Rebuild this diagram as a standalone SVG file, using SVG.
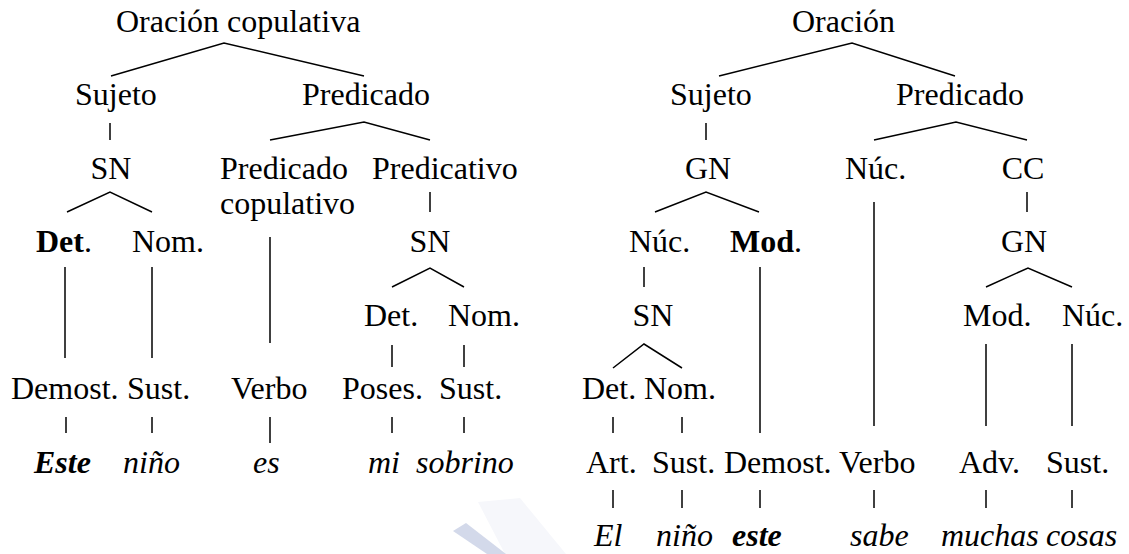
<svg xmlns="http://www.w3.org/2000/svg" width="1129" height="554" viewBox="0 0 1129 554">
  <style>
    text { font-size: 32px; fill: #000; }
    .b { font-weight: bold; }
    .i { font-style: italic; }
    .bi { font-weight: bold; font-style: italic; }
    .m { text-anchor: middle; }
    #connectors line, #connectors polyline { stroke: #000; stroke-width: 1.5; fill: none; }
  </style>
  <rect width="1129" height="554" fill="#fff"/>

  <!-- faint mark at the bottom edge -->
  <g id="mark">
    <polygon points="478,502 520,498 566,554 505,554" fill="#f6f7fb"/>
    <polygon points="453,531 466,523 506,554 487,554" fill="#d3d9ea"/>
  </g>

  <g id="connectors">
    <!-- left tree -->
    <polyline points="111,76 224,43 364,76"/>
    <line x1="110" y1="123" x2="110" y2="140"/>
    <polyline points="270,140 364,122 430,140"/>
    <polyline points="67,212 110,192 152,212"/>
    <line x1="430" y1="192" x2="430" y2="212"/>
    <line x1="270" y1="237" x2="270" y2="343"/>
    <line x1="65" y1="267" x2="65" y2="358"/>
    <line x1="152" y1="267" x2="152" y2="358"/>
    <polyline points="392,287 430,268 464,287"/>
    <line x1="392" y1="345" x2="392" y2="367"/>
    <line x1="464" y1="345" x2="464" y2="367"/>
    <line x1="66" y1="417" x2="66" y2="433"/>
    <line x1="152" y1="417" x2="152" y2="433"/>
    <line x1="270" y1="417" x2="270" y2="443"/>
    <line x1="392" y1="417" x2="392" y2="433"/>
    <line x1="464" y1="417" x2="464" y2="433"/>
    <!-- right tree -->
    <polyline points="719,76 852,43 955,76"/>
    <line x1="706" y1="123" x2="706" y2="140"/>
    <polyline points="874,140 956,122 1027,140"/>
    <polyline points="655,212 706,192 759,212"/>
    <line x1="874" y1="202" x2="874" y2="426"/>
    <line x1="1027" y1="192" x2="1027" y2="212"/>
    <line x1="644" y1="267" x2="644" y2="287"/>
    <line x1="760" y1="267" x2="760" y2="433"/>
    <polyline points="986,287 1028,268 1072,287"/>
    <polyline points="613,368 644,344 682,368"/>
    <line x1="986" y1="344" x2="986" y2="426"/>
    <line x1="1072" y1="344" x2="1072" y2="426"/>
    <line x1="613" y1="417" x2="613" y2="433"/>
    <line x1="682" y1="417" x2="682" y2="433"/>
    <line x1="613" y1="490" x2="613" y2="508"/>
    <line x1="682" y1="490" x2="682" y2="508"/>
    <line x1="760" y1="490" x2="760" y2="508"/>
    <line x1="874" y1="490" x2="874" y2="508"/>
    <line x1="986" y1="490" x2="986" y2="508"/>
    <line x1="1072" y1="490" x2="1072" y2="508"/>
  </g>

  <g font-family="Liberation Serif, DejaVu Serif, serif">
  <!-- left tree: copulative sentence -->
  <g id="l-oracion"><text x="116" y="32">Oración copulativa</text></g>
  <g id="l-sujeto"><text x="75" y="105">Sujeto</text></g>
  <g id="l-predicado"><text x="302" y="105">Predicado</text></g>
  <g id="l-sn"><text class="m" x="111" y="179">SN</text></g>
  <g id="l-predcop"><text x="220" y="179">Predicado</text><text x="220" y="214">copulativo</text></g>
  <g id="l-predicativo"><text x="372" y="179">Predicativo</text></g>
  <g id="l-det"><text x="36" y="252"><tspan class="b">Det</tspan>.</text></g>
  <g id="l-nom"><text x="132" y="252">Nom.</text></g>
  <g id="l-sn2"><text class="m" x="430" y="252">SN</text></g>
  <g id="l-det2"><text x="364" y="326">Det.</text></g>
  <g id="l-nom2"><text x="448" y="326">Nom.</text></g>
  <g id="l-demost"><text x="11" y="399">Demost.</text></g>
  <g id="l-sust"><text x="127" y="399">Sust.</text></g>
  <g id="l-verbo"><text x="231" y="399">Verbo</text></g>
  <g id="l-poses"><text x="342" y="399">Poses.</text></g>
  <g id="l-sust2"><text x="439" y="399">Sust.</text></g>
  <g id="l-este"><text class="bi" x="34" y="473">Este</text></g>
  <g id="l-nino"><text class="i" x="123" y="473">niño</text></g>
  <g id="l-es"><text class="i" x="253" y="473">es</text></g>
  <g id="l-mi"><text class="i" x="368" y="473">mi</text></g>
  <g id="l-sobrino"><text class="i" x="416" y="473">sobrino</text></g>

  <!-- right tree -->
  <g id="r-oracion"><text x="792" y="32">Oración</text></g>
  <g id="r-sujeto"><text x="670" y="105">Sujeto</text></g>
  <g id="r-predicado"><text x="896" y="105">Predicado</text></g>
  <g id="r-gn"><text class="m" x="708" y="179">GN</text></g>
  <g id="r-nuc"><text x="845" y="179">Núc.</text></g>
  <g id="r-cc"><text class="m" x="1023" y="179">CC</text></g>
  <g id="r-nuc2"><text x="629" y="252">Núc.</text></g>
  <g id="r-mod"><text x="730" y="252"><tspan class="b">Mod</tspan>.</text></g>
  <g id="r-gn2"><text class="m" x="1024" y="252">GN</text></g>
  <g id="r-sn"><text class="m" x="653" y="326">SN</text></g>
  <g id="r-mod2"><text x="963" y="326">Mod.</text></g>
  <g id="r-nuc3"><text x="1062" y="326">Núc.</text></g>
  <g id="r-det"><text x="582" y="399">Det.</text></g>
  <g id="r-nom"><text x="644" y="399">Nom.</text></g>
  <g id="r-art"><text x="586" y="473">Art.</text></g>
  <g id="r-sust"><text x="652" y="473">Sust.</text></g>
  <g id="r-demost"><text x="724" y="473">Demost.</text></g>
  <g id="r-verbo"><text x="839" y="473">Verbo</text></g>
  <g id="r-adv"><text x="959" y="473">Adv.</text></g>
  <g id="r-sust2"><text x="1046" y="473">Sust.</text></g>
  <g id="r-el"><text class="i" x="594" y="546">El</text></g>
  <g id="r-nino"><text class="i" x="656" y="546">niño</text></g>
  <g id="r-este"><text class="bi" x="732" y="546">este</text></g>
  <g id="r-sabe"><text class="i" x="850" y="546">sabe</text></g>
  <g id="r-muchas"><text class="i" x="941" y="546">muchas</text></g>
  <g id="r-cosas"><text class="i" x="1046" y="546">cosas</text></g>
  </g>
</svg>
